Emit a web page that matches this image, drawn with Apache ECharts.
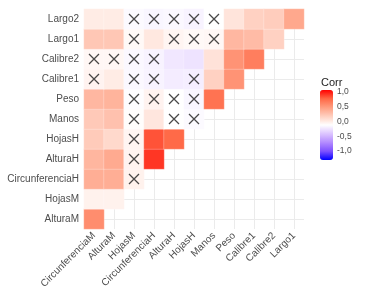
<!DOCTYPE html>
<html>
<head>
<meta charset="utf-8">
<script src="https://cdn.jsdelivr.net/npm/echarts@6/dist/echarts.min.js"></script>
<style>
html,body{margin:0;padding:0;background:#fff;}
#chart{width:374px;height:298px;}
</style>
</head>
<body>
<div id="chart"></div>
<script>
const xVars = ['CircunferenciaM','AlturaM','HojasM','CircunferenciaH','AlturaH','HojasH','Manos','Peso','Calibre1','Calibre2','Largo1'];
const yVars = ['AlturaM','HojasM','CircunferenciaH','AlturaH','HojasH','Manos','Peso','Calibre1','Calibre2','Largo1','Largo2'];

// correlations, one row per y variable (lower triangle)
const corrAlturaM         = [0.58];
const corrHojasM          = [0.07, 0.07];
const corrCircunferenciaH = [0.42, 0.42, 0.07];
const corrAlturaH         = [0.38, 0.44, 0.06, 0.87];
const corrHojasH          = [0.27, 0.20, 0.05, 0.80, 0.74];
const corrManos           = [0.28, 0.32, 0.01, 0.13, 0.00, -0.02];
const corrPeso            = [0.37, 0.39, -0.01, 0.06, 0.00, -0.04, 0.70];
const corrCalibre1        = [0.06, 0.10, -0.03, -0.05, -0.08, -0.07, 0.24, 0.55];
const corrCalibre2        = [0.04, 0.04, -0.03, -0.05, -0.10, -0.12, 0.15, 0.55, 0.65];
const corrLargo1          = [0.29, 0.29, 0.03, 0.12, 0.05, 0.03, 0.04, 0.37, 0.35, 0.24];
const corrLargo2          = [0.10, 0.10, -0.02, -0.04, -0.03, -0.05, 0.00, 0.14, 0.24, 0.26, 0.45];

// non-significant cells (column indexes) per y variable
const insigAlturaM = [];
const insigHojasM = [];
const insigCircunferenciaH = [2];
const insigAlturaH = [2];
const insigHojasH = [2];
const insigManos = [2, 4, 5];
const insigPeso = [2, 3, 4, 5];
const insigCalibre1 = [0, 2, 3, 5];
const insigCalibre2 = [0, 1, 2, 3];
const insigLargo1 = [2, 4, 5, 6];
const insigLargo2 = [2, 3, 4, 5, 6];

const legendTicks  = [1, 0.5, 0, -0.5, -1];
const legendLabels = ['1,0', '0,5', '0,0', '-0,5', '-1,0'];

const corrRows = [corrAlturaM, corrHojasM, corrCircunferenciaH, corrAlturaH, corrHojasH, corrManos, corrPeso, corrCalibre1, corrCalibre2, corrLargo1, corrLargo2];
const insigRows = [insigAlturaM, insigHojasM, insigCircunferenciaH, insigAlturaH, insigHojasH, insigManos, insigPeso, insigCalibre1, insigCalibre2, insigLargo1, insigLargo2];

const heatData = [];
corrRows.forEach((row, yi) => row.forEach((v, xi) => heatData.push([xi, yi, v])));
const crossData = [];
insigRows.forEach((row, yi) => row.forEach(xi => crossData.push([xi, yi])));

const FONT = "'Liberation Sans', Arial, sans-serif";
const chart = echarts.init(document.getElementById('chart'), null, {renderer: 'canvas'});

const barTop = 90, barH = 70;
const graphics = [{
  type: 'text', left: 321, top: 77,
  style: {text: 'Corr', font: '11px ' + FONT, fill: '#222'}
}];
legendTicks.forEach((v, i) => {
  graphics.push({
    type: 'text', x: 337, y: 121.5 - v * 29.5,
    style: {text: legendLabels[i], font: '8.5px ' + FONT, fill: '#4d4d4d', verticalAlign: 'middle', align: 'left'}
  });
});

chart.setOption({
  animation: false,
  backgroundColor: '#ffffff',
  grid: {left: 84, top: 9, width: 220, height: 220, containLabel: false},
  xAxis: {
    type: 'category', data: xVars,
    axisLine: {show: false}, axisTick: {show: false},
    splitLine: {show: true, alignWithLabel: true, lineStyle: {color: '#ebebeb', width: 1}},
    axisLabel: {rotate: 45, margin: 5, color: '#4d4d4d', fontSize: 10, fontFamily: FONT, interval: 0}
  },
  yAxis: {
    type: 'category', data: yVars,
    axisLine: {show: false}, axisTick: {show: false},
    splitLine: {show: true, alignWithLabel: true, lineStyle: {color: '#ebebeb', width: 1}},
    axisLabel: {margin: 5, color: '#4d4d4d', fontSize: 10, fontFamily: FONT, interval: 0}
  },
  visualMap: {
    type: 'continuous', min: -1, max: 1, seriesIndex: 0,
    calculable: false, hoverLink: false, orient: 'vertical',
    left: 320, top: barTop, itemWidth: 13, itemHeight: barH, padding: 0,
    text: null, showLabel: false,
    inRange: {color: ['#0000FF','#7E51FF','#B38BFF','#DCC4FF','#FFFFFF','#FFCFBF','#FF9E81','#FF6846','#FF0000']}
  },
  graphic: graphics,
  series: [{
    type: 'heatmap', data: heatData,
    itemStyle: {borderColor: 'rgba(255,255,255,0.5)', borderWidth: 0.5},
    emphasis: {disabled: true}
  }, {
    type: 'scatter', data: crossData,
    symbol: 'path://M0,0L10,10M10,0L0,10', symbolSize: 10,
    itemStyle: {color: 'none', borderColor: '#1a1a1a', borderWidth: 1.25},
    emphasis: {disabled: true}, silent: true
  }]
});
</script>
</body>
</html>
